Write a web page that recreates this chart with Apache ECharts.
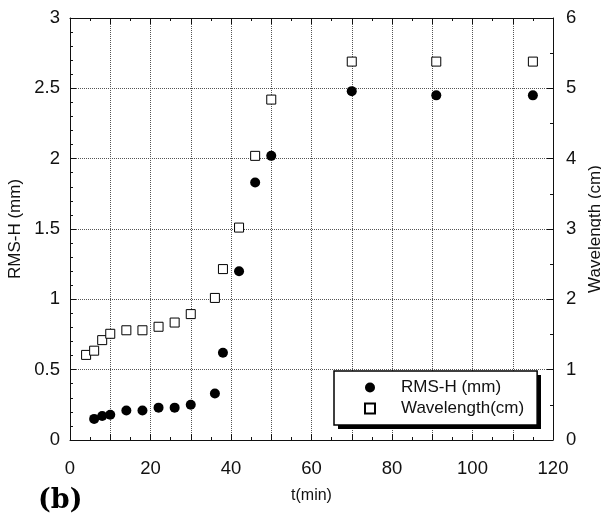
<!DOCTYPE html>
<html>
<head>
<meta charset="utf-8">
<script src="https://cdn.jsdelivr.net/npm/echarts@6/dist/echarts.min.js"></script>
<style>
html,body{margin:0;padding:0;background:#fff;}
#chart{width:601px;height:514px;}
</style>
</head>
<body>
<div id="chart"></div>
<script>
// ---- data ----
var tRms = [6, 8, 10, 14, 18, 22, 26, 30, 36, 38, 42, 46, 50, 70, 91, 115];
var rmsH = [0.15, 0.17, 0.18, 0.21, 0.21, 0.23, 0.23, 0.25, 0.33, 0.62, 1.20, 1.83, 2.02, 2.48, 2.45, 2.45];
var tWl = [4, 6, 8, 10, 14, 18, 22, 26, 30, 36, 38, 42, 46, 50, 70, 91, 115];
var wavelength = [1.21, 1.27, 1.42, 1.51, 1.56, 1.56, 1.61, 1.67, 1.79, 2.02, 2.43, 3.02, 4.04, 4.84, 5.38, 5.38, 5.38];
var seriesNames = ['RMS-H (mm)', 'Wavelength(cm)'];
var xName = 't(min)';
var yLeftName = 'RMS-H (mm)';
var yRightName = 'Wavelength (cm)';
var panelLabel = '(b)';

function zip(a, b) { return a.map(function (v, i) { return [v, b[i]]; }); }

var font = 'Liberation Sans, Arial, Helvetica, sans-serif';
var ink = '#111';
var gridStyle = { show: true, lineStyle: { color: '#555', width: 1, type: [1, 1] } };

var chart = echarts.init(document.getElementById('chart'), null, { renderer: 'canvas' });
chart.setOption({
  backgroundColor: '#fff',
  animation: false,
  textStyle: { fontFamily: font },
  grid: { left: 70, right: 48, top: 18, bottom: 74, containLabel: false, outerBoundsMode: 'none' },
  xAxis: [{
    type: 'value', min: 0, max: 120, interval: 10, position: 'bottom',
    name: xName, nameLocation: 'middle', nameGap: 48,
    nameTextStyle: { fontSize: 16, color: ink, fontFamily: font },
    axisLine: { show: true, onZero: false, lineStyle: { color: ink, width: 1 } },
    axisTick: { show: true, inside: true, length: 6, lineStyle: { color: ink } },
    minorTick: { show: true, splitNumber: 2, length: 3, lineStyle: { color: ink } },
    splitLine: gridStyle,
    axisLabel: { fontSize: 18.5, color: ink, margin: 19, fontFamily: font,
      formatter: function (v) { return v % 20 === 0 ? String(v) : ''; } }
  }, {
    type: 'value', min: 0, max: 120, interval: 10, position: 'top',
    axisLine: { show: true, onZero: false, lineStyle: { color: ink, width: 1 } },
    axisTick: { show: true, inside: true, length: 6, lineStyle: { color: ink } },
    minorTick: { show: true, splitNumber: 2, length: 3, lineStyle: { color: ink } },
    splitLine: { show: false },
    axisLabel: { show: false }
  }],
  yAxis: [{
    type: 'value', min: 0, max: 3, interval: 0.5, position: 'left',
    name: yLeftName, nameLocation: 'middle', nameGap: 46,
    nameTextStyle: { fontSize: 17, color: ink, fontFamily: font },
    axisLine: { show: true, onZero: false, lineStyle: { color: ink, width: 1 } },
    axisTick: { show: true, inside: true, length: 6, lineStyle: { color: ink } },
    minorTick: { show: true, splitNumber: 5, length: 3, lineStyle: { color: ink } },
    splitLine: gridStyle,
    axisLabel: { fontSize: 18.5, color: ink, margin: 10, fontFamily: font }
  }, {
    type: 'value', min: 0, max: 6, interval: 1, position: 'right',
    name: yRightName, nameLocation: 'middle', nameGap: 29,
    nameTextStyle: { fontSize: 17, color: ink, fontFamily: font },
    axisLine: { show: true, onZero: false, lineStyle: { color: ink, width: 1 } },
    axisTick: { show: true, inside: true, length: 6, lineStyle: { color: ink } },
    minorTick: { show: true, splitNumber: 2, length: 3, lineStyle: { color: ink } },
    splitLine: { show: false },
    axisLabel: { fontSize: 18.5, color: ink, margin: 13, fontFamily: font }
  }],
  legend: {
    orient: 'vertical', left: 334, top: 371, z: 10,
    padding: [8, 13, 8, 30], itemGap: 4,
    itemWidth: 10, itemHeight: 10,
    backgroundColor: '#fff', borderColor: '#000', borderWidth: 1.5, borderRadius: 0,
    textStyle: { fontSize: 17, color: ink, fontFamily: font, padding: [0, 0, 0, 21] },
    data: [{ name: seriesNames[0], icon: 'circle' }, { name: seriesNames[1], icon: 'rect' }]
  },
  graphic: [{
    type: 'rect', left: 338, top: 375, z: 5,
    shape: { width: 203, height: 54 },
    style: { fill: '#000' }
  }, {
    type: 'text', left: 38, top: 487,
    style: { text: panelLabel, fontSize: 27, fontWeight: 'bold', fontFamily: 'DejaVu Serif, Liberation Serif, serif', fill: '#000' }
  }],
  series: [{
    name: seriesNames[0], type: 'scatter', xAxisIndex: 0, yAxisIndex: 0,
    symbol: 'circle', symbolSize: 10,
    itemStyle: { color: '#000', opacity: 1 },
    data: zip(tRms, rmsH), z: 3
  }, {
    name: seriesNames[1], type: 'scatter', xAxisIndex: 0, yAxisIndex: 1,
    symbol: 'rect', symbolSize: 9,
    itemStyle: { color: '#fff', borderColor: '#000', borderWidth: 1, opacity: 1 },
    data: zip(tWl, wavelength), z: 3
  }]
});
</script>
</body>
</html>
